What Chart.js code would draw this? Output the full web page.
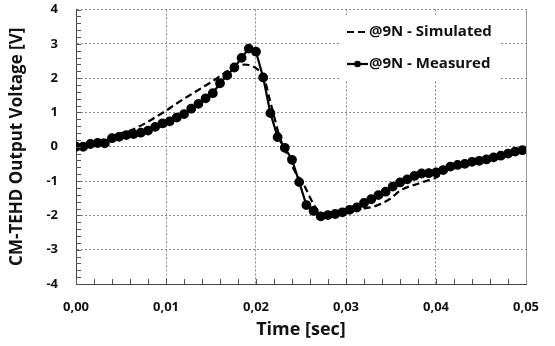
<!DOCTYPE html>
<html>
<head>
<meta charset="utf-8">
<script src="https://cdn.jsdelivr.net/npm/chart.js@4.4.0/dist/chart.umd.min.js"></script>
<style>
    html, body { margin: 0; padding: 0; background: #fff; }
    #wrap { width: 555px; height: 346px; position: relative; }
</style>
</head>
<body>
<div id="wrap"><canvas id="voltChart"></canvas></div>
<script>
// measured samples (sec / V)
const measuredTime = [0, 0.0008, 0.0016, 0.0024, 0.0032, 0.004, 0.0048, 0.0056, 0.0064, 0.0072,
    0.008, 0.0088, 0.0096, 0.0104, 0.0112, 0.012, 0.0128, 0.0136, 0.0144, 0.0152,
    0.016, 0.0168, 0.0176, 0.0184, 0.0192, 0.02, 0.0208, 0.0216, 0.0224, 0.0232,
    0.024, 0.0248, 0.0256, 0.0264, 0.0272, 0.028, 0.0288, 0.0296, 0.0304, 0.0312,
    0.032, 0.0328, 0.0336, 0.0344, 0.0352, 0.036, 0.0368, 0.0376, 0.0384, 0.0392,
    0.04, 0.0408, 0.0416, 0.0424, 0.0432, 0.044, 0.0448, 0.0456, 0.0464, 0.0472,
    0.048, 0.0488, 0.0496];
const measuredVolt = [0, 0, 0.08, 0.11, 0.10, 0.25, 0.29, 0.34, 0.37, 0.41,
    0.47, 0.58, 0.68, 0.74, 0.85, 0.95, 1.11, 1.25, 1.41, 1.56,
    1.85, 2.08, 2.31, 2.59, 2.86, 2.77, 2.02, 0.98, 0.28, -0.03,
    -0.38, -1.03, -1.70, -1.87, -2.03, -1.99, -1.96, -1.91, -1.84, -1.77,
    -1.64, -1.53, -1.41, -1.31, -1.16, -1.04, -0.95, -0.85, -0.78, -0.77,
    -0.75, -0.68, -0.58, -0.53, -0.50, -0.44, -0.41, -0.37, -0.31, -0.26,
    -0.20, -0.14, -0.10];

// simulated curve
const simTime = [0, 0.001, 0.002, 0.003, 0.004, 0.005, 0.006, 0.007, 0.008, 0.009,
    0.010, 0.011, 0.012, 0.013, 0.014, 0.015, 0.016, 0.017, 0.018, 0.0185,
    0.019, 0.0195, 0.020, 0.0205, 0.021, 0.0215, 0.022, 0.0225, 0.023, 0.0235,
    0.024, 0.0245, 0.025, 0.0255, 0.026, 0.0265, 0.027, 0.0275, 0.028, 0.029,
    0.030, 0.031, 0.032, 0.033, 0.034, 0.035, 0.036, 0.037, 0.038, 0.039,
    0.040, 0.041, 0.042, 0.043, 0.044, 0.045, 0.046, 0.047, 0.048, 0.049, 0.050];
const simVolt = [0, 0.06, 0.13, 0.21, 0.30, 0.39, 0.47, 0.59, 0.73, 0.89,
    1.05, 1.23, 1.40, 1.56, 1.72, 1.88, 2.06, 2.23, 2.35, 2.39,
    2.39, 2.36, 2.29, 2.17, 1.92, 1.40, 0.90, 0.40, 0.02, -0.25,
    -0.55, -0.80, -0.98, -1.20, -1.48, -1.72, -1.92, -2.01, -2.01, -1.96,
    -1.90, -1.84, -1.80, -1.75, -1.65, -1.50, -1.28, -1.16, -1.08, -0.99,
    -0.90, -0.72, -0.59, -0.52, -0.46, -0.43, -0.39, -0.34, -0.27, -0.19, -0.11];

const xTicks = [0, 0.01, 0.02, 0.03, 0.04, 0.05];
const yTicks = [-4, -3, -2, -1, 0, 1, 2, 3, 4];
const seriesNames = ['@9N - Simulated', '@9N - Measured'];

const FONT = '"Open Sans", Lato, sans-serif';

function pairs(xs, ys) {
    return xs.map(function(x, i) { return { x: x, y: ys[i] }; });
}

// inward minor ticks, right border and the boxed legend
const extras = {
    id: 'extras',
    afterDraw: function(chart) {
        const ctx = chart.ctx;
        const area = chart.chartArea;
        const xs = chart.scales.x;
        const ys = chart.scales.y;
        ctx.save();
        ctx.strokeStyle = '#555';
        ctx.lineWidth = 1;
        ctx.beginPath();
        for (let i = 0; i <= 40; i++) {
            const py = Math.round(ys.getPixelForValue(-4 + i * 0.2)) + 0.5;
            ctx.moveTo(area.left, py);
            ctx.lineTo(area.left + 5, py);
        }
        for (let i = 0; i <= 25; i++) {
            const px = Math.round(xs.getPixelForValue(i * 0.002)) + 0.5;
            ctx.moveTo(px, area.bottom);
            ctx.lineTo(px, area.bottom - 5);
        }
        ctx.stroke();

        ctx.strokeStyle = '#999';
        ctx.beginPath();
        ctx.moveTo(Math.round(area.right) + 0.5, area.top);
        ctx.lineTo(Math.round(area.right) + 0.5, area.bottom);
        ctx.stroke();

        // legend
        ctx.fillStyle = '#fff';
        ctx.fillRect(340, 15, 161, 65);
        const rows = [32, 64];
        chart.data.datasets.forEach(function(ds, i) {
            const y = rows[i];
            ctx.strokeStyle = '#000';
            ctx.lineWidth = 2.2;
            ctx.setLineDash(ds.borderDash || []);
            ctx.beginPath();
            ctx.moveTo(347, y);
            ctx.lineTo(368, y);
            ctx.stroke();
            ctx.setLineDash([]);
            if (ds.pointRadius > 0) {
                ctx.fillStyle = '#000';
                ctx.beginPath();
                ctx.arc(357.5, y, 3.3, 0, Math.PI * 2);
                ctx.fill();
            }
            ctx.fillStyle = '#111';
            ctx.font = 'bold 15px ' + FONT;
            ctx.textBaseline = 'middle';
            ctx.textAlign = 'left';
            ctx.fillText(ds.label, 369, y);
        });
        ctx.restore();
    }
};

document.addEventListener('DOMContentLoaded', function() {
    const ctx = document.getElementById('voltChart').getContext('2d');
    new Chart(ctx, {
        type: 'scatter',
        data: {
            datasets: [{
                label: seriesNames[0],
                data: pairs(simTime, simVolt),
                showLine: true,
                borderColor: '#000',
                borderWidth: 2.2,
                borderDash: [7, 4],
                pointRadius: 0,
                tension: 0.3
            }, {
                label: seriesNames[1],
                data: pairs(measuredTime, measuredVolt),
                showLine: true,
                borderColor: '#000',
                backgroundColor: '#000',
                borderWidth: 2.2,
                pointRadius: 3.8,
                pointBackgroundColor: '#000',
                pointBorderColor: '#000',
                tension: 0
            }]
        },
        options: {
            responsive: true,
            maintainAspectRatio: false,
            animation: false,
            layout: { padding: { left: 0, right: 29, top: 9.5, bottom: 0 } },
            plugins: {
                legend: { display: false },
                tooltip: { enabled: false }
            },
            scales: {
                x: {
                    type: 'linear',
                    min: 0,
                    max: 0.05,
                    afterBuildTicks: function(scale) {
                        scale.ticks = xTicks.map(function(v) { return { value: v }; });
                    },
                    afterFit: function(scale) { scale.height = 62; },
                    grid: { color: '#8a8a8a', lineWidth: 1, drawTicks: true, tickLength: 15, tickColor: 'rgba(0,0,0,0)' },
                    border: { color: '#444', width: 1, dash: [2, 2] },
                    ticks: {
                        padding: 0,
                        color: '#111',
                        font: { family: FONT, size: 13, weight: 'bold' },
                        callback: function(v) { return v.toFixed(2).replace('.', ','); }
                    },
                    title: {
                        display: true,
                        text: 'Time [sec]',
                        color: '#111',
                        font: { family: FONT, size: 18, weight: 'bold' },
                        padding: { top: 0, bottom: 5 }
                    }
                },
                y: {
                    min: -4,
                    max: 4,
                    afterBuildTicks: function(scale) {
                        scale.ticks = yTicks.map(function(v) { return { value: v }; });
                    },
                    afterFit: function(scale) { scale.width = 76; },
                    grid: { color: '#8a8a8a', lineWidth: 1, drawTicks: true, tickLength: 18, tickColor: 'rgba(0,0,0,0)' },
                    border: { color: '#444', width: 1, dash: [2, 2] },
                    ticks: {
                        padding: 0,
                        color: '#111',
                        font: { family: FONT, size: 13, weight: 'bold' }
                    },
                    title: {
                        display: true,
                        text: 'CM-TEHD Output Voltage [V]',
                        color: '#111',
                        font: { family: FONT, size: 17, weight: 'bold' },
                        padding: { top: 7, bottom: 0 }
                    }
                }
            }
        },
        plugins: [extras]
    });
});
</script>
</body>
</html>
